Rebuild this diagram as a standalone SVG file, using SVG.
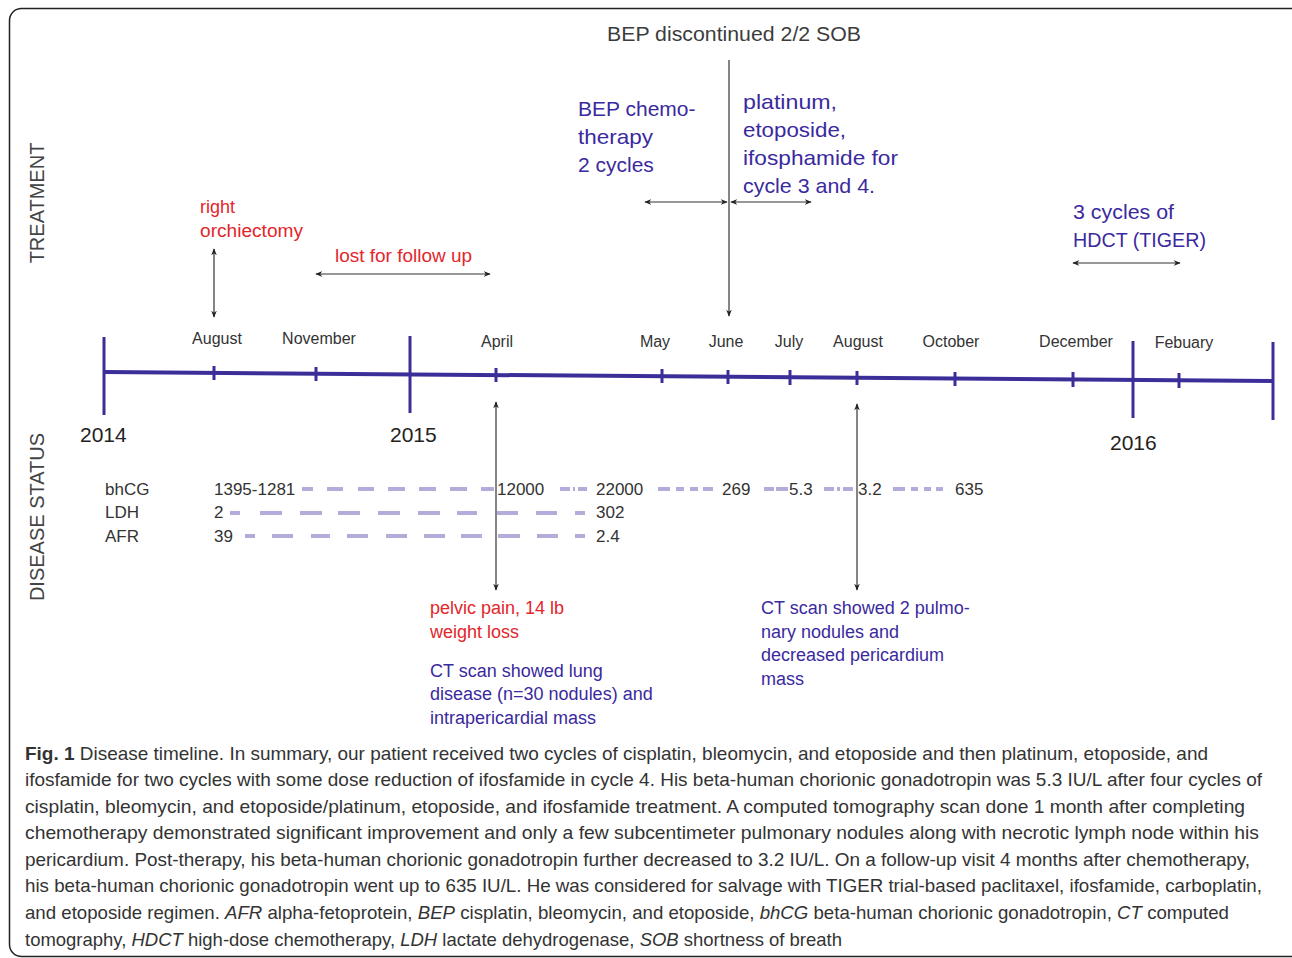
<svg xmlns="http://www.w3.org/2000/svg" width="1292" height="958" viewBox="0 0 1292 958">
<style>
text{font-family:"Liberation Sans",Arial,sans-serif}
.gray{fill:#3c3c3c}
.month{font-size:16px;fill:#333;text-anchor:middle}
.year{font-size:21px;fill:#222}
.side{font-size:20px;fill:#444}
.blue{fill:#3a2a9e;font-size:21px}
.red{fill:#e3262b;font-size:18px}
.blue2{fill:#3a2a9e;font-size:18px}
.lab{font-size:17px;fill:#333}
.cap{font-size:18.5px;fill:#333}
.tl{stroke:#3b2e98;stroke-width:4;fill:none}
.tk{stroke:#3b2e98;stroke-width:3;fill:none}
.arr{stroke:#333;stroke-width:1.2;fill:none;marker-end:url(#ah);marker-start:url(#ah)}
.arr1{stroke:#333;stroke-width:1.2;fill:none;marker-end:url(#ah)}
.dash{stroke:#b3abd9;stroke-width:4;fill:none}
</style>
<defs>
<marker id="ah" viewBox="0 0 10 10" refX="9" refY="5" markerWidth="7" markerHeight="7" markerUnits="userSpaceOnUse" orient="auto-start-reverse">
<path d="M0,1 L10,5 L0,9 L3,5 Z" fill="#222"/>
</marker>
</defs>
<rect x="9.5" y="8.5" width="1296" height="948" rx="12" fill="#fff" stroke="#222" stroke-width="1.5"/>

<g id="axis-labels">
<text class="side" transform="translate(44,203) rotate(-90)" text-anchor="middle">TREATMENT</text>
<text class="side" transform="translate(44,517) rotate(-90)" text-anchor="middle">DISEASE STATUS</text>
</g>

<g id="timeline">
<line class="tl" x1="104" y1="372" x2="1273" y2="381"/>
<line class="tk" stroke-width="4.5" x1="104" y1="337" x2="104" y2="415"/>
<line class="tk" stroke-width="4.5" x1="410" y1="336" x2="410" y2="413"/>
<line class="tk" stroke-width="4.5" x1="1133" y1="341" x2="1133" y2="418"/>
<line class="tk" stroke-width="4.5" x1="1273" y1="342" x2="1273" y2="420"/>
<line class="tk" x1="214" y1="366" x2="214" y2="380"/>
<line class="tk" x1="316" y1="367" x2="316" y2="381"/>
<line class="tk" x1="496" y1="368" x2="496" y2="382"/>
<line class="tk" x1="662" y1="369" x2="662" y2="383"/>
<line class="tk" x1="728" y1="370" x2="728" y2="384"/>
<line class="tk" x1="790" y1="370" x2="790" y2="385"/>
<line class="tk" x1="857" y1="371" x2="857" y2="385"/>
<line class="tk" x1="955" y1="372" x2="955" y2="386"/>
<line class="tk" x1="1073" y1="372" x2="1073" y2="387"/>
<line class="tk" x1="1179" y1="373" x2="1179" y2="388"/>
<text class="month" x="217" y="344">August</text>
<text class="month" x="319" y="344">November</text>
<text class="month" x="497" y="347">April</text>
<text class="month" x="655" y="347">May</text>
<text class="month" x="726" y="347">June</text>
<text class="month" x="789" y="347">July</text>
<text class="month" x="858" y="347">August</text>
<text class="month" x="951" y="347">October</text>
<text class="month" x="1076" y="347">December</text>
<text class="month" x="1184" y="348">Febuary</text>
<text class="year" x="80" y="442">2014</text>
<text class="year" x="390" y="442">2015</text>
<text class="year" x="1110" y="450">2016</text>
</g>

<g id="treatment">
<text class="gray" x="607" y="41" font-size="20.5" textLength="254" lengthAdjust="spacingAndGlyphs">BEP discontinued 2/2 SOB</text>
<text class="blue" x="578" y="116">BEP chemo-</text>
<text class="blue" x="578" y="144" textLength="75" lengthAdjust="spacingAndGlyphs">therapy</text>
<text class="blue" x="578" y="172">2 cycles</text>
<text class="blue" x="743" y="109" textLength="94" lengthAdjust="spacingAndGlyphs">platinum,</text>
<text class="blue" x="743" y="137" textLength="103" lengthAdjust="spacingAndGlyphs">etoposide,</text>
<text class="blue" x="743" y="165" textLength="155" lengthAdjust="spacingAndGlyphs">ifosphamide for</text>
<text class="blue" x="743" y="193" textLength="132" lengthAdjust="spacingAndGlyphs">cycle 3 and 4.</text>
<text class="blue" x="1073" y="219" textLength="101" lengthAdjust="spacingAndGlyphs">3 cycles of</text>
<text class="blue" x="1073" y="247" textLength="133" lengthAdjust="spacingAndGlyphs">HDCT (TIGER)</text>
<text class="red" x="200" y="213">right</text>
<text class="red" x="200" y="237" textLength="103" lengthAdjust="spacingAndGlyphs">orchiectomy</text>
<text class="red" x="335" y="262" textLength="137" lengthAdjust="spacingAndGlyphs">lost for follow up</text>
</g>

<g id="disease">
<text class="lab" x="105" y="495">bhCG</text>
<text class="lab" x="105" y="518">LDH</text>
<text class="lab" x="105" y="542">AFR</text>
<text class="lab" x="214" y="495">1395-1281</text>
<text class="lab" x="497" y="495">12000</text>
<text class="lab" x="596" y="495">22000</text>
<text class="lab" x="722" y="495">269</text>
<text class="lab" x="789" y="495">5.3</text>
<text class="lab" x="858" y="495">3.2</text>
<text class="lab" x="955" y="495">635</text>
<text class="lab" x="214" y="518">2</text>
<text class="lab" x="596" y="518">302</text>
<text class="lab" x="214" y="542">39</text>
<text class="lab" x="596" y="542">2.4</text>
<text class="red" x="430" y="614">pelvic pain, 14 lb</text>
<text class="red" x="430" y="638">weight loss</text>
<text class="blue2" x="430" y="677">CT scan showed lung</text>
<text class="blue2" x="430" y="700">disease (n=30 nodules) and</text>
<text class="blue2" x="430" y="724">intrapericardial mass</text>
<text class="blue2" x="761" y="614">CT scan showed 2 pulmo-</text>
<text class="blue2" x="761" y="638">nary nodules and</text>
<text class="blue2" x="761" y="661">decreased pericardium</text>
<text class="blue2" x="761" y="685">mass</text>
</g>

<g id="connectors">
<line class="arr1" x1="729" y1="60" x2="729" y2="316"/>
<line class="arr" x1="645" y1="202" x2="727" y2="202"/>
<line class="arr" x1="731" y1="202" x2="811" y2="202"/>
<line class="arr" x1="1073" y1="263" x2="1180" y2="263"/>
<line class="arr" x1="214" y1="249" x2="214" y2="317"/>
<line class="arr" x1="316" y1="274" x2="490" y2="274"/>
<line class="arr" x1="496" y1="402" x2="496" y2="590"/>
<line class="arr" x1="857" y1="404" x2="857" y2="590"/>
<path class="dash" d="M302,489 H313 M327,489 H343 M358,489 H374 M388,489 H405 M419,489 H436 M450,489 H467 M481,489 H494"/>
<path class="dash" d="M560,489 H570 M573,489 H575 M578,489 H587"/>
<path class="dash" d="M658,489 H670 M676,489 H684 M690,489 H698 M703,489 H713"/>
<path class="dash" d="M764,489 H774 M776,489 H788"/>
<path class="dash" d="M824,489 H834 M837,489 H840 M843,489 H853"/>
<path class="dash" d="M893,489 H905 M911,489 H918 M924,489 H931 M936,489 H943"/>
<path class="dash" d="M230,513 H240 M260,513 H282 M300,513 H322 M338,513 H360 M378,513 H400 M418,513 H440 M457,513 H477 M497,513 H518 M536,513 H557 M575,513 H585"/>
<path class="dash" d="M245,536 H255 M272,536 H293 M311,536 H330 M347,536 H368 M386,536 H407 M424,536 H445 M461,536 H482 M498,536 H520 M537,536 H558 M575,536 H585"/>
</g>

<g id="caption" class="cap">
<text x="25" y="760" textLength="1183" lengthAdjust="spacingAndGlyphs"><tspan font-weight="bold">Fig. 1</tspan> Disease timeline. In summary, our patient received two cycles of cisplatin, bleomycin, and etoposide and then platinum, etoposide, and</text>
<text x="25" y="786" textLength="1237" lengthAdjust="spacingAndGlyphs">ifosfamide for two cycles with some dose reduction of ifosfamide in cycle 4. His beta-human chorionic gonadotropin was 5.3 IU/L after four cycles of</text>
<text x="25" y="813" textLength="1220" lengthAdjust="spacingAndGlyphs">cisplatin, bleomycin, and etoposide/platinum, etoposide, and ifosfamide treatment. A computed tomography scan done 1 month after completing</text>
<text x="25" y="839" textLength="1234" lengthAdjust="spacingAndGlyphs">chemotherapy demonstrated significant improvement and only a few subcentimeter pulmonary nodules along with necrotic lymph node within his</text>
<text x="25" y="866" textLength="1225" lengthAdjust="spacingAndGlyphs">pericardium. Post-therapy, his beta-human chorionic gonadotropin further decreased to 3.2 IU/L. On a follow-up visit 4 months after chemotherapy,</text>
<text x="25" y="892" textLength="1237" lengthAdjust="spacingAndGlyphs">his beta-human chorionic gonadotropin went up to 635 IU/L. He was considered for salvage with TIGER trial-based paclitaxel, ifosfamide, carboplatin,</text>
<text x="25" y="919" textLength="1204" lengthAdjust="spacingAndGlyphs">and etoposide regimen. <tspan font-style="italic">AFR</tspan> alpha-fetoprotein, <tspan font-style="italic">BEP</tspan> cisplatin, bleomycin, and etoposide, <tspan font-style="italic">bhCG</tspan> beta-human chorionic gonadotropin, <tspan font-style="italic">CT</tspan> computed</text>
<text x="25" y="946" textLength="817" lengthAdjust="spacingAndGlyphs">tomography, <tspan font-style="italic">HDCT</tspan> high-dose chemotherapy, <tspan font-style="italic">LDH</tspan> lactate dehydrogenase, <tspan font-style="italic">SOB</tspan> shortness of breath</text>
</g>
</svg>
